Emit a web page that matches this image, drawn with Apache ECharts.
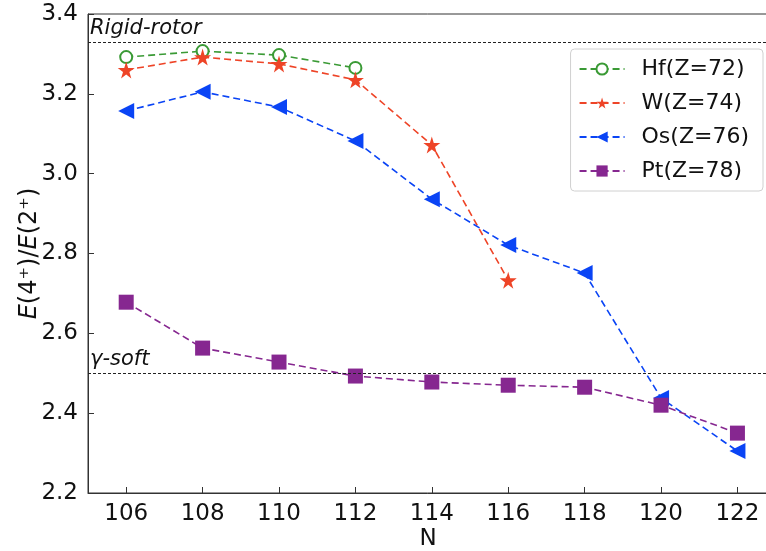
<!DOCTYPE html>
<html>
<head>
<meta charset="utf-8">
<script src="https://cdn.jsdelivr.net/npm/echarts@6/dist/echarts.min.js"></script>
<style>
  html, body { margin: 0; padding: 0; background: #fff; }
  #chart { width: 766px; height: 551px; }
</style>
</head>
<body>
<div id="chart"></div>
<script>
// neutron number N
var nValues = [106, 108, 110, 112, 114, 116, 118, 120, 122];
// E(4+)/E(2+) ratios
var hf = [3.292, 3.307, 3.297, 3.265];
var w  = [3.260, 3.292, 3.275, 3.235, 3.072, 2.733];
var os = [3.157, 3.205, 3.167, 3.082, 2.936, 2.821, 2.751, 2.438, 2.305];
var pt = [2.678, 2.563, 2.528, 2.493, 2.478, 2.470, 2.465, 2.420, 2.350];
var rigidRotor = 3.33;
var gammaSoft = 2.5;

var FONT = 'DejaVu Sans';
var starPath = 'path://M50,0 L61,35 L98,35 L68,57 L79,91 L50,70 L21,91 L32,57 L2,35 L39,35 Z';

function pairs(vals) {
  var out = [];
  for (var i = 0; i < vals.length; i++) out.push([nValues[i], vals[i]]);
  return out;
}

var myChart = echarts.init(document.getElementById('chart'));

var option = {
  animation: false,
  textStyle: { fontFamily: FONT },
  grid: {
    left: 88, top: 14, right: -2, bottom: 58,
    outerBoundsMode: 'none',
    show: true, borderColor: '#333', borderWidth: 1
  },
  legend: {
    orient: 'vertical',
    right: 3,
    top: 49,
    itemWidth: 45,
    itemHeight: 14,
    itemGap: 12,
    padding: [9, 14, 9, 8],
    borderColor: '#d0d0d0',
    borderWidth: 1,
    borderRadius: 4,
    textStyle: { fontSize: 22, color: '#111', fontFamily: FONT, padding: [0, 0, 0, 12] },
    data: ['Hf(Z=72)', 'W(Z=74)', 'Os(Z=76)', 'Pt(Z=78)']
  },
  xAxis: {
    type: 'value',
    min: 105,
    max: 122.8,
    name: 'N',
    nameLocation: 'middle',
    nameGap: 35,
    nameMoveOverlap: false,
    nameTextStyle: { fontSize: 23, color: '#111', fontFamily: FONT },
    axisLine: { lineStyle: { color: '#333' } },
    axisTick: { inside: true, length: 6, lineStyle: { color: '#333' }, customValues: nValues },
    axisLabel: { fontSize: 23, color: '#111', margin: 10, fontFamily: FONT, customValues: nValues },
    splitLine: { show: false }
  },
  yAxis: {
    type: 'value',
    min: 2.2,
    max: 3.4,
    interval: 0.2,
    name: '{i|E}(4⁺)/{i|E}(2⁺)',
    nameLocation: 'middle',
    nameRotate: 90,
    nameGap: 46,
    nameMoveOverlap: false,
    nameTextStyle: {
      fontSize: 24, color: '#111', fontFamily: FONT,
      rich: { i: { fontSize: 24, fontStyle: 'italic', color: '#111', fontFamily: FONT } }
    },
    axisLine: { lineStyle: { color: '#333' } },
    axisTick: { inside: true, length: 6, lineStyle: { color: '#333' } },
    axisLabel: {
      fontSize: 23, color: '#111', margin: 10, fontFamily: FONT,
      formatter: function (v) { return v.toFixed(1); }
    },
    splitLine: { show: false }
  },
  series: [
    {
      name: 'Hf(Z=72)',
      type: 'line',
      data: pairs(hf),
      symbol: 'emptyCircle',
      symbolSize: 12,
      color: '#3a9a35',
      lineStyle: { type: [7, 4], width: 1.6, color: '#3a9a35' },
      itemStyle: { color: '#3a9a35', borderWidth: 1.4 },
      markLine: {
        silent: true,
        symbol: 'none',
        lineStyle: { type: [3, 2], color: '#222', width: 1 },
        label: {
          position: 'insideStartTop',
          distance: [2, 3],
          fontSize: 21, fontStyle: 'italic', color: '#111', fontFamily: FONT,
          formatter: function (p) { return p.name; }
        },
        data: [
          { yAxis: rigidRotor, name: 'Rigid-rotor' },
          { yAxis: gammaSoft, name: 'γ-soft' }
        ]
      }
    },
    {
      name: 'W(Z=74)',
      type: 'line',
      data: pairs(w),
      symbol: starPath,
      symbolSize: 17,
      color: '#ee4427',
      lineStyle: { type: [7, 4], width: 1.6, color: '#ee4427' },
      itemStyle: { color: '#ee4427' }
    },
    {
      name: 'Os(Z=76)',
      type: 'line',
      data: pairs(os),
      symbol: 'triangle',
      symbolRotate: 90,
      symbolSize: 16,
      color: '#0a44f5',
      lineStyle: { type: [7, 4], width: 1.6, color: '#0a44f5' },
      itemStyle: { color: '#0a44f5' }
    },
    {
      name: 'Pt(Z=78)',
      type: 'line',
      data: pairs(pt),
      symbol: 'rect',
      symbolSize: 15,
      color: '#862790',
      lineStyle: { type: [7, 4], width: 1.6, color: '#862790' },
      itemStyle: { color: '#862790' }
    }
  ]
};

myChart.setOption(option);
</script>
</body>
</html>
